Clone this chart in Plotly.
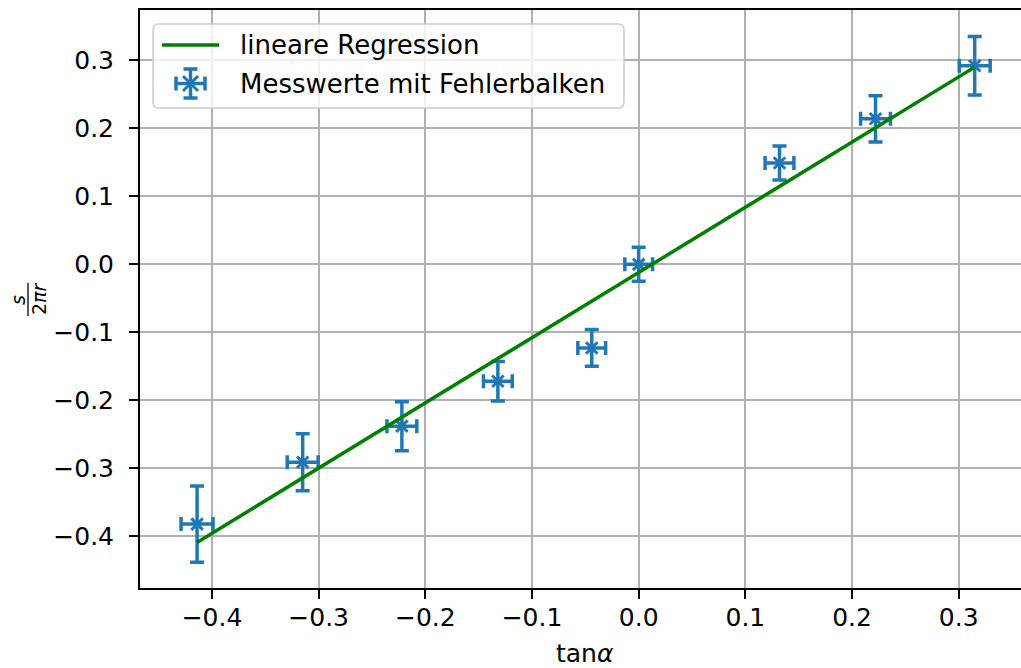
import plotly.graph_objects as go

# ---- data ----
tan_alpha = [-0.414, -0.315, -0.222, -0.132, -0.044, 0.0, 0.132, 0.222, 0.315]
s_ratio = [-0.382, -0.291, -0.238, -0.172, -0.123, 0.0, 0.149, 0.214, 0.292]
s_err = [0.056, 0.042, 0.036, 0.029, 0.027, 0.025, 0.025, 0.034, 0.043]
tan_err = [0.015, 0.0145, 0.014, 0.0135, 0.013, 0.013, 0.0135, 0.014, 0.0145]
fit_x = [-0.414, 0.315]
fit_y = [-0.409, 0.290]
x_ticks = [-0.4, -0.3, -0.2, -0.1, 0.0, 0.1, 0.2, 0.3]
x_ticktext = ["\u22120.4", "\u22120.3", "\u22120.2", "\u22120.1", "0.0", "0.1", "0.2", "0.3"]
y_ticks = [-0.4, -0.3, -0.2, -0.1, 0.0, 0.1, 0.2, 0.3]
y_ticktext = ["\u22120.4", "\u22120.3", "\u22120.2", "\u22120.1", "0.0", "0.1", "0.2", "0.3"]

BLUE = "#1f77b4"
GREEN = "#008000"
FONT = "DejaVu Sans"

W, H = 1021, 668
L, T, B, R = 140, 10, 588, 1021
PW, PH = R - L, B - T


def px(x):
    return (x - L) / PW


def py(y):
    return (B - y) / PH


fig = go.Figure()

fig.add_trace(go.Scatter(
    x=tan_alpha, y=s_ratio, mode="markers",
    marker=dict(symbol="x-thin-open", size=11.5, color=BLUE,
                line=dict(width=3, color=BLUE)),
    error_y=dict(type="data", array=s_err, visible=True, color=BLUE,
                 thickness=3.5, width=7),
    error_x=dict(type="data", array=tan_err, visible=True, color=BLUE,
                 thickness=3.5, width=7),
    showlegend=False, name="Messwerte mit Fehlerbalken",
))

fig.add_trace(go.Scatter(
    x=fit_x, y=fit_y, mode="lines",
    line=dict(color=GREEN, width=3.5),
    showlegend=False, name="lineare Regression",
))

shapes = []
annotations = []

# manual legend box (rounded)
x0, x1, y0, y1, r = 153, 624, 24, 108, 6


def P(x, y):
    return f"{px(x):.5f},{py(y):.5f}"


path = (f"M {P(x0 + r, y0)} L {P(x1 - r, y0)} Q {P(x1, y0)} {P(x1, y0 + r)} "
        f"L {P(x1, y1 - r)} Q {P(x1, y1)} {P(x1 - r, y1)} "
        f"L {P(x0 + r, y1)} Q {P(x0, y1)} {P(x0, y1 - r)} "
        f"L {P(x0, y0 + r)} Q {P(x0, y0)} {P(x0 + r, y0)} Z")
shapes.append(dict(type="path", path=path, xref="paper", yref="paper",
                   line=dict(color="#cccccc", width=1.5),
                   fillcolor="rgba(255,255,255,0.8)", layer="above"))


def seg(xa, ya, xb, yb, color, width):
    shapes.append(dict(type="line", xref="paper", yref="paper",
                       x0=px(xa), y0=py(ya), x1=px(xb), y1=py(yb),
                       line=dict(color=color, width=width), layer="above"))


# legend line sample
seg(162, 45, 219, 45, GREEN, 3.5)
# legend errorbar sample
cx, cy = 190.5, 83.5
seg(cx, cy - 14.5, cx, cy + 14.5, BLUE, 3.5)
seg(cx - 7, cy - 14.5, cx + 7, cy - 14.5, BLUE, 3.5)
seg(cx - 7, cy + 14.5, cx + 7, cy + 14.5, BLUE, 3.5)
seg(cx - 14.5, cy, cx + 14.5, cy, BLUE, 3.5)
seg(cx - 14.5, cy - 7, cx - 14.5, cy + 7, BLUE, 3.5)
seg(cx + 14.5, cy - 7, cx + 14.5, cy + 7, BLUE, 3.5)
seg(cx - 7.5, cy - 7.5, cx + 7.5, cy + 7.5, BLUE, 3)
seg(cx - 7.5, cy + 7.5, cx + 7.5, cy - 7.5, BLUE, 3)

annotations.append(dict(text="lineare Regression", x=px(238), y=py(45),
                        xref="paper", yref="paper", xanchor="left", yanchor="middle",
                        showarrow=False, font=dict(family=FONT, size=26, color="black")))
annotations.append(dict(text="Messwerte mit Fehlerbalken", x=px(238), y=py(84),
                        xref="paper", yref="paper", xanchor="left", yanchor="middle",
                        showarrow=False, font=dict(family=FONT, size=26, color="black")))

# x axis label
annotations.append(dict(text="tan<i>α</i>", x=px(585), y=py(653),
                        xref="paper", yref="paper", xanchor="center", yanchor="middle",
                        showarrow=False, font=dict(family=FONT, size=25, color="black")))

# y axis label: fraction s / (2 pi r), rotated
annotations.append(dict(text="<i>s</i>", x=px(18), y=py(300),
                        xref="paper", yref="paper", xanchor="center", yanchor="middle",
                        textangle=-90, showarrow=False,
                        font=dict(family=FONT, size=19, color="black")))
annotations.append(dict(text="2<i>πr</i>", x=px(39), y=py(299),
                        xref="paper", yref="paper", xanchor="center", yanchor="middle",
                        textangle=-90, showarrow=False,
                        font=dict(family=FONT, size=19, color="black")))
seg(28, 283, 28, 316, "black", 1.3)

fig.update_layout(
    width=W, height=H,
    margin=dict(l=L, r=W - R, t=T, b=H - B, pad=0),
    paper_bgcolor="white", plot_bgcolor="white",
    shapes=shapes, annotations=annotations,
    showlegend=False,
    font=dict(family=FONT, color="black"),
)

fig.update_xaxes(
    range=[-0.4675, 0.3584], tickvals=x_ticks, ticktext=x_ticktext,
    showgrid=True, gridcolor="#b0b0b0", gridwidth=2,
    showline=True, linecolor="black", linewidth=2, mirror=True,
    ticks="outside", ticklen=9, tickwidth=2, tickcolor="black",
    tickfont=dict(family=FONT, size=25, color="black"),
    ticklabelstandoff=-3, zeroline=False,
)
fig.update_yaxes(
    range=[-0.476, 0.374], tickvals=y_ticks, ticktext=y_ticktext,
    showgrid=True, gridcolor="#b0b0b0", gridwidth=2,
    showline=True, linecolor="black", linewidth=2, mirror=False,
    ticks="outside", ticklen=9, tickwidth=2, tickcolor="black",
    tickfont=dict(family=FONT, size=25, color="black"),
    ticklabelstandoff=10, zeroline=False,
)

fig.write_html("out.html")
